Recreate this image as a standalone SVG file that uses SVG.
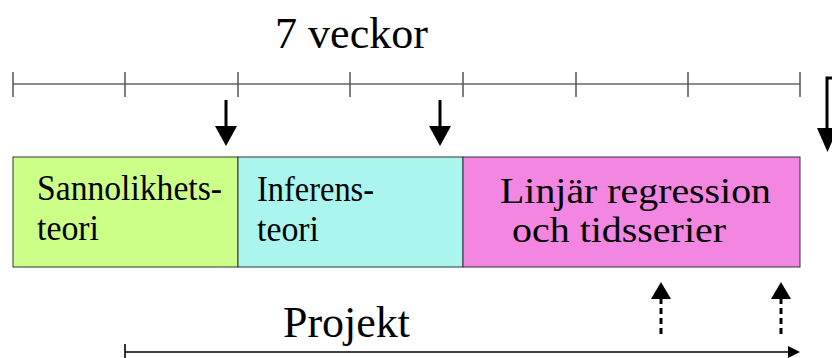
<svg xmlns="http://www.w3.org/2000/svg" width="832" height="358" viewBox="0 0 832 358">
<style>
text{font-family:"Liberation Serif","Times New Roman",serif;fill:#000}
.big{font-size:45px}
.lbl{font-size:35px}
.tl{stroke:#666;stroke-width:1.5;fill:none}
.tk{stroke:#555;stroke-width:1.5}
.box{stroke:#333;stroke-width:1}
.ar{stroke:#000;stroke-width:3;fill:none}
.dash{stroke:#000;stroke-width:3;stroke-dasharray:6,4;fill:none}
</style>
<text class="big" x="275" y="48" textLength="153" lengthAdjust="spacingAndGlyphs">7 veckor</text>
<g id="timeline">
<line class="tl" x1="13" y1="84" x2="800" y2="84"/>
<line class="tk" x1="13" y1="72" x2="13" y2="97"/>
<line class="tk" x1="125" y1="72" x2="125" y2="97"/>
<line class="tk" x1="238" y1="72" x2="238" y2="97"/>
<line class="tk" x1="350" y1="72" x2="350" y2="97"/>
<line class="tk" x1="463" y1="72" x2="463" y2="97"/>
<line class="tk" x1="576" y1="72" x2="576" y2="97"/>
<line class="tk" x1="688" y1="72" x2="688" y2="97"/>
<line class="tk" x1="800" y1="72" x2="800" y2="97"/>
</g>
<g id="node-sannolikhet">
<rect class="box" x="13" y="157" width="225" height="110" fill="#ccff88"/>
<text class="lbl" x="37" y="200" textLength="185" lengthAdjust="spacingAndGlyphs">Sannolikhets-</text>
<text class="lbl" x="37" y="240" textLength="62" lengthAdjust="spacingAndGlyphs">teori</text>
</g>
<g id="node-inferens">
<rect class="box" x="238" y="157" width="225" height="110" fill="#aaf5ee"/>
<text class="lbl" x="257" y="201" textLength="117" lengthAdjust="spacingAndGlyphs">Inferens-</text>
<text class="lbl" x="257" y="241" textLength="62" lengthAdjust="spacingAndGlyphs">teori</text>
</g>
<g id="node-linjar">
<rect class="box" x="463" y="157" width="337" height="110" fill="#f386e0"/>
<text class="lbl" x="500" y="203" textLength="271" lengthAdjust="spacingAndGlyphs">Linjär regression</text>
<text class="lbl" x="512" y="242" textLength="214" lengthAdjust="spacingAndGlyphs">och tidsserier</text>
</g>
<text id="node-projekt" class="big" x="283" y="337" textLength="127" lengthAdjust="spacingAndGlyphs">Projekt</text>
<g id="connectors">
<line class="ar" x1="226" y1="100" x2="226" y2="128"/>
<path d="M215,126 L237,126 L226,146 Z" fill="#000"/>
<line class="ar" x1="440" y1="100" x2="440" y2="128"/>
<path d="M429,126 L451,126 L440,146 Z" fill="#000"/>
<path class="ar" d="M834,78 L827,78 L827,130"/>
<path d="M817,128 L838,128 L827.5,152 Z" fill="#000"/>
<line class="dash" x1="661" y1="334" x2="661" y2="296"/>
<path d="M651,299 L671,299 L661,282 Z" fill="#000"/>
<line class="dash" x1="781" y1="334" x2="781" y2="296"/>
<path d="M771,299 L791,299 L781,282 Z" fill="#000"/>
<line x1="125" y1="344" x2="125" y2="358" stroke="#333" stroke-width="2"/>
<line x1="125" y1="352" x2="790" y2="352" stroke="#000" stroke-width="1.5"/>
<path d="M788,346 L800,352 L788,358 Z" fill="#000"/>
</g>
</svg>
